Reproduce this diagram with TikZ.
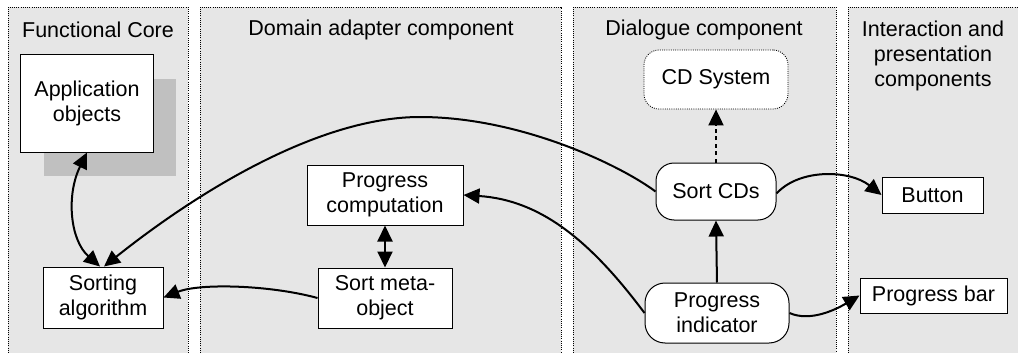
\documentclass[tikz,border=0pt]{standalone}
\usepackage{fontspec}
\setmainfont{Liberation Sans}
\usetikzlibrary{arrows.meta}
\definecolor{panelgray}{HTML}{E6E6E6}
\definecolor{shadowgray}{HTML}{C0C0C0}
\tikzset{
  panel/.style={fill=panelgray, draw=none},
  panelrule/.style={draw=black, line width=0.8pt, dash pattern=on 1pt off 1.2pt},
  title/.style={font=\fontsize{21.5}{25}\selectfont, align=center, inner sep=0pt},
  box/.style={draw=black, fill=white, line width=1pt, inner sep=0pt, align=center,
    font=\fontsize{21.5}{25}\selectfont},
  roundbox/.style={box, rounded corners=18pt},
  tip/.tip={Triangle[length=16pt,width=15pt]},
  flow/.style={line width=2pt, -tip},
  twoway/.style={line width=2pt, tip-tip},
}
\begin{document}
\begin{tikzpicture}[x=1pt, y=-1pt]
\useasboundingbox (0,0) rectangle (1018,353);
\fill[white] (0,0) rectangle (1018,353);

% four component bands, open at the bottom
\fill[panel] (8,7) rectangle (188,353);
\fill[panel] (200,7) rectangle (561,353);
\fill[panel] (573,7) rectangle (836,353);
\fill[panel] (848,7) rectangle (1018,353);
\draw[panelrule] (8,353) -- (8,7) -- (188,7) -- (188,353);
\draw[panelrule] (200,353) -- (200,7) -- (561,7) -- (561,353);
\draw[panelrule] (573,353) -- (573,7) -- (836,7) -- (836,353);
\draw[panelrule] (848,353) -- (848,7) -- (1018,7);

% band titles
\node[title] (tfc) at (98,30) {Functional Core};
\node[title] (tda) at (381,30) {Domain adapter component};
\node[title] (tdc) at (704,30) {Dialogue component};
\node[title, anchor=north] (tip) at (933,20.5) {Interaction and\\presentation\\components};

% nodes
\fill[shadowgray] (44,79) rectangle (176,176);
\node[box, minimum width=133pt, minimum height=97pt] (app) at (87,103.5) {Application\\objects};
\node[box, minimum width=120pt, minimum height=61pt] (sa) at (103,297.5) {Sorting\\algorithm};
\node[box, minimum width=156pt, minimum height=60pt] (pc) at (385,195) {Progress\\computation};
\node[box, minimum width=134pt, minimum height=60pt] (mo) at (385,298) {Sort meta-\\object};
\node[roundbox, minimum width=144pt, minimum height=59pt, rounded corners=15pt,
      line width=0.8pt, dash pattern=on 1pt off 1.2pt] (cds) at (716,79.5) {CD System};
\node[roundbox, minimum width=120pt, minimum height=57pt] (scd) at (716,191.5) {Sort CDs};
\node[roundbox, minimum width=144pt, minimum height=60pt, rounded corners=20pt] (pi) at (717,313) {Progress\\indicator};
\node[box, minimum width=101pt, minimum height=36pt] (btn) at (932.5,195) {Button};
\node[box, minimum width=147pt, minimum height=35pt] (pb) at (933.5,295.5) {Progress bar};

% connectors
\draw[twoway] (app.south) .. controls (66,195) and (70,240) .. ([xshift=-3pt]sa.north);
\draw[flow] (scd.west) .. controls (620,165) and (520,117) .. (420,117)
            .. controls (320,117) and (200,190) .. ([xshift=1pt]sa.north);
\draw[flow] (mo.west) .. controls (270,285) and (200,283) .. (sa.east);
\draw[twoway] (pc.south) -- (mo.north);
\draw[flow] (pi.west) .. controls (590,240) and (540,200) .. (pc.east);
\draw[flow] (pi.north) -- (scd.south);
\draw[flow, dash pattern=on 4pt off 3.5pt] (scd.north) -- (cds.south);
\draw[flow] ([yshift=-2pt]scd.east) .. controls (800,168) and (850,170) .. (btn.west);
\draw[flow] (pi.east) .. controls (810,322) and (835,310) .. (pb.west);
\end{tikzpicture}
\end{document}
